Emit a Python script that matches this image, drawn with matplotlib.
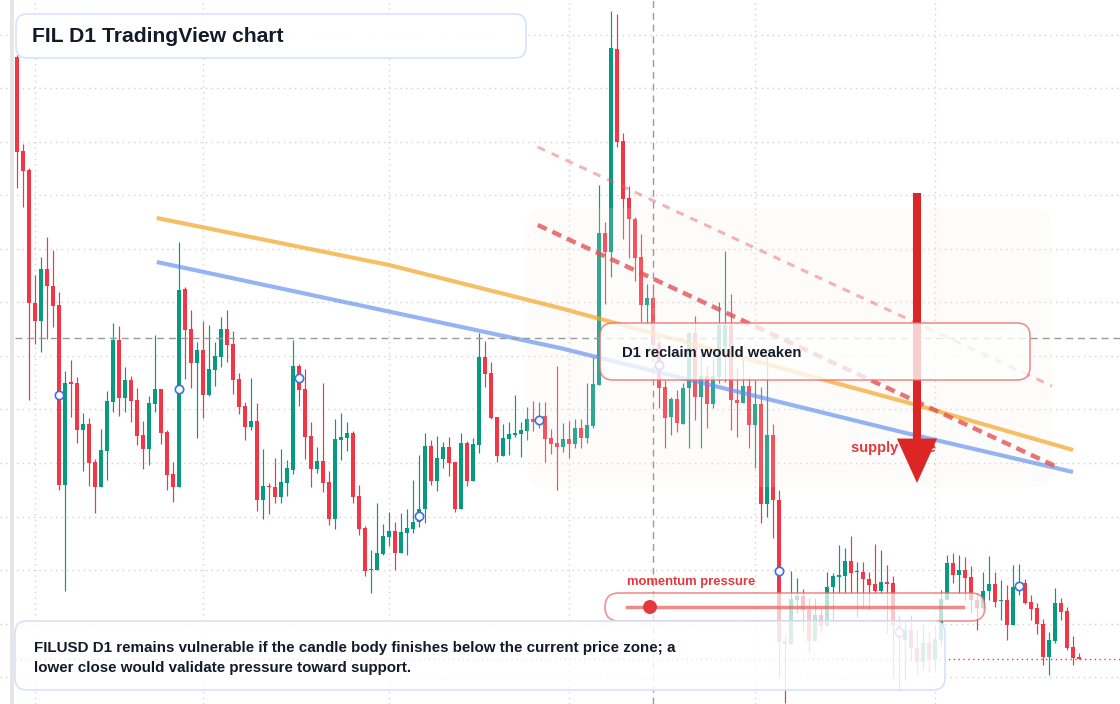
import numpy as np
import pandas as pd
import matplotlib
matplotlib.use("Agg")
import matplotlib.pyplot as plt
from matplotlib.patches import FancyBboxPatch, Circle
from matplotlib.lines import Line2D
from matplotlib.transforms import IdentityTransform

plt.rcParams["font.family"] = ["Liberation Sans", "DejaVu Sans"]

# daily FILUSD candles
dates = pd.date_range("2025-01-29", periods=178, freq="D")

opens = [
    1.886, 1.698, 1.660, 1.394, 1.358, 1.462, 1.428, 1.390, 1.030, 1.236,
    1.234, 1.140, 1.152, 1.076, 1.026, 1.098, 1.196, 1.320, 1.204, 1.240,
    1.200, 1.130, 1.102, 1.192, 1.222, 1.136, 1.052, 1.026, 1.422, 1.342,
    1.274, 1.300, 1.210, 1.260, 1.286, 1.342, 1.312, 1.242, 1.188, 1.146,
    1.158, 1.000, 1.028, 1.026, 1.006, 1.034, 1.060, 1.268, 1.222, 1.128,
    1.062, 1.078, 1.036, 0.962, 1.120, 1.124, 1.134, 1.008, 0.944, 0.860,
    0.860, 0.892, 0.926, 0.938, 0.894, 0.934, 0.942, 0.956, 0.982, 1.108,
    1.038, 1.082, 1.106, 1.076, 0.982, 1.114, 1.038, 1.110, 1.286, 1.254,
    1.166, 1.088, 1.122, 1.130, 1.132, 1.138, 1.162, 1.158, 1.168, 1.124,
    1.114, 1.106, 1.122, 1.112, 1.144, 1.124, 1.148, 1.230, 1.534, 1.496,
    1.902, 1.718, 1.604, 1.562, 1.486, 1.390, 1.404, 1.314, 1.226, 1.166,
    1.202, 1.152, 1.224, 1.334, 1.206, 1.248, 1.192, 1.246, 1.306, 1.350,
    1.200, 1.194, 1.228, 1.150, 1.192, 0.992, 1.130, 1.000, 0.718, 0.712,
    0.800, 0.808, 0.780, 0.718, 0.770, 0.748, 0.826, 0.846, 0.848, 0.878,
    0.856, 0.856, 0.842, 0.832, 0.818, 0.836, 0.834, 0.748, 0.720, 0.740,
    0.704, 0.676, 0.714, 0.680, 0.720, 0.800, 0.874, 0.850, 0.860, 0.846,
    0.800, 0.784, 0.818, 0.832, 0.798, 0.800, 0.750, 0.826, 0.834, 0.796,
    0.784, 0.752, 0.686, 0.718, 0.794, 0.778, 0.706, 0.686,
]
highs = [
    1.890, 1.712, 1.664, 1.450, 1.486, 1.526, 1.500, 1.416, 1.258, 1.280,
    1.246, 1.174, 1.164, 1.082, 1.142, 1.218, 1.354, 1.348, 1.266, 1.248,
    1.224, 1.158, 1.208, 1.330, 1.222, 1.140, 1.076, 1.516, 1.426, 1.380,
    1.316, 1.358, 1.350, 1.316, 1.366, 1.380, 1.338, 1.254, 1.196, 1.244,
    1.194, 1.102, 1.034, 1.084, 1.102, 1.080, 1.320, 1.272, 1.262, 1.156,
    1.106, 1.234, 1.058, 1.162, 1.174, 1.156, 1.138, 1.030, 0.948, 0.900,
    0.994, 0.952, 0.976, 0.956, 0.974, 0.982, 1.040, 1.090, 1.134, 1.120,
    1.128, 1.116, 1.126, 1.076, 1.134, 1.118, 1.124, 1.334, 1.318, 1.276,
    1.166, 1.152, 1.156, 1.210, 1.156, 1.186, 1.198, 1.196, 1.196, 1.142,
    1.268, 1.154, 1.158, 1.162, 1.162, 1.234, 1.286, 1.630, 1.556, 1.978,
    1.972, 1.734, 1.628, 1.566, 1.532, 1.432, 1.430, 1.320, 1.240, 1.206,
    1.220, 1.234, 1.336, 1.368, 1.314, 1.268, 1.294, 1.396, 1.498, 1.412,
    1.266, 1.286, 1.246, 1.240, 1.226, 1.290, 1.152, 1.020, 0.730, 0.858,
    0.844, 0.822, 0.804, 0.804, 0.786, 0.856, 0.854, 0.910, 0.904, 0.928,
    0.876, 0.876, 0.856, 0.912, 0.900, 0.870, 0.848, 0.770, 0.760, 0.770,
    0.740, 0.750, 0.736, 0.750, 0.820, 0.890, 0.894, 0.890, 0.886, 0.868,
    0.814, 0.856, 0.888, 0.856, 0.840, 0.830, 0.870, 0.872, 0.842, 0.810,
    0.794, 0.762, 0.736, 0.824, 0.804, 0.786, 0.728, 0.694,
]
lows = [
    1.624, 1.586, 1.200, 1.312, 1.296, 1.322, 1.346, 1.020, 0.818, 1.166,
    1.114, 1.058, 1.028, 0.974, 1.026, 1.040, 1.176, 1.168, 1.176, 1.156,
    1.110, 1.062, 1.070, 1.176, 1.112, 1.020, 0.996, 1.026, 1.242, 1.224,
    1.124, 1.164, 1.208, 1.228, 1.266, 1.276, 1.212, 1.172, 1.120, 1.140,
    0.978, 0.962, 0.972, 0.994, 0.994, 1.008, 1.052, 1.188, 1.082, 1.026,
    1.054, 1.016, 0.950, 0.942, 1.080, 1.098, 0.994, 0.930, 0.848, 0.814,
    0.860, 0.890, 0.908, 0.860, 0.894, 0.890, 0.934, 0.946, 0.954, 1.030,
    1.018, 1.064, 1.048, 0.976, 0.982, 1.028, 1.038, 1.094, 1.226, 1.162,
    1.076, 1.088, 1.090, 1.126, 1.086, 1.120, 1.138, 1.144, 1.076, 1.092,
    1.020, 1.096, 1.084, 1.104, 1.104, 1.114, 1.144, 1.230, 1.392, 1.446,
    1.706, 1.522, 1.484, 1.438, 1.356, 1.352, 1.280, 1.184, 1.104, 1.130,
    1.136, 1.152, 1.104, 1.160, 1.104, 1.144, 1.184, 1.234, 1.236, 1.140,
    1.126, 1.194, 1.104, 1.064, 0.954, 0.966, 0.924, 0.646, 0.594, 0.710,
    0.774, 0.736, 0.694, 0.718, 0.734, 0.748, 0.760, 0.814, 0.814, 0.814,
    0.766, 0.784, 0.780, 0.814, 0.814, 0.734, 0.644, 0.620, 0.640, 0.680,
    0.650, 0.660, 0.656, 0.660, 0.710, 0.800, 0.834, 0.814, 0.800, 0.774,
    0.740, 0.780, 0.800, 0.786, 0.760, 0.720, 0.750, 0.810, 0.792, 0.760,
    0.732, 0.670, 0.650, 0.714, 0.760, 0.700, 0.670, 0.682,
]
closes = [
    1.696, 1.658, 1.394, 1.358, 1.462, 1.428, 1.388, 1.030, 1.234, 1.232,
    1.140, 1.152, 1.074, 1.026, 1.100, 1.198, 1.320, 1.204, 1.240, 1.198,
    1.128, 1.102, 1.194, 1.222, 1.134, 1.050, 1.026, 1.420, 1.340, 1.274,
    1.300, 1.210, 1.262, 1.288, 1.342, 1.310, 1.240, 1.186, 1.146, 1.158,
    1.000, 1.028, 1.026, 1.006, 1.036, 1.064, 1.268, 1.220, 1.126, 1.062,
    1.078, 1.034, 0.962, 1.122, 1.126, 1.134, 1.006, 0.942, 0.858, 0.862,
    0.894, 0.928, 0.938, 0.894, 0.936, 0.944, 0.956, 0.982, 1.108, 1.038,
    1.084, 1.106, 1.074, 0.982, 1.114, 1.038, 1.112, 1.286, 1.252, 1.164,
    1.088, 1.124, 1.132, 1.134, 1.140, 1.162, 1.156, 1.162, 1.122, 1.112,
    1.106, 1.122, 1.112, 1.144, 1.124, 1.150, 1.232, 1.534, 1.496, 1.904,
    1.716, 1.602, 1.562, 1.484, 1.390, 1.404, 1.310, 1.224, 1.164, 1.202,
    1.154, 1.224, 1.334, 1.206, 1.248, 1.192, 1.248, 1.350, 1.350, 1.200,
    1.194, 1.228, 1.150, 1.192, 0.992, 1.130, 1.000, 0.716, 0.712, 0.802,
    0.808, 0.780, 0.718, 0.770, 0.748, 0.826, 0.848, 0.850, 0.878, 0.854,
    0.858, 0.842, 0.830, 0.818, 0.836, 0.832, 0.750, 0.724, 0.740, 0.704,
    0.676, 0.714, 0.680, 0.722, 0.802, 0.874, 0.850, 0.860, 0.844, 0.800,
    0.784, 0.818, 0.832, 0.796, 0.800, 0.750, 0.826, 0.832, 0.794, 0.782,
    0.752, 0.686, 0.720, 0.794, 0.776, 0.704, 0.684, 0.682,
]

# overlay curves (bar index, price)
ema_fast_x = [23.3, 62.0, 90.5, 149.3, 176.0]
ema_fast = [1.564, 1.470, 1.384, 1.192, 1.100]
ema_slow_x = [23.3, 90.5, 148.8, 176.0]
ema_slow = [1.476, 1.304, 1.132, 1.056]

# descending trendlines
trend_x = [86.8, 173.0]
trend_main = [1.550, 1.068]
trend_upper_x = [86.8, 172.5]
trend_upper = [1.706, 1.228]

zone_x = [85.0, 172.5]
zone_price = [1.026, 1.584]
arrow_x = 150
arrow_price = [1.614, 1.034]
cross_x = 106
cross_price = 1.324
marker_idx = [7, 27, 47, 67, 87, 107, 127, 147, 167]

W, H = 1120, 704
UP, DOWN = "#089981", "#f23645"

fig = plt.figure(figsize=(W / 100, H / 100), dpi=100)
ax = fig.add_axes([0, 0, 1, 1])
ax.set_xlim(-2.833, 183.833)
ax.set_ylim(0.592, 2.0)
for s in ax.spines.values():
    s.set_visible(False)

month_starts = np.where(dates.day == 1)[0]
ax.set_xticks(month_starts)
ax.set_yticks(np.arange(0.646, 1.95, 0.107))
ax.tick_params(length=0, labelbottom=False, labelleft=False)
ax.grid(True, color="#d2d2d2", lw=1, ls=(0, (1, 3)), zorder=0)

o = np.array(opens)
h = np.array(highs)
l = np.array(lows)
c = np.array(closes)
x = np.arange(len(o))
up = c >= o
cols = np.where(up, UP, DOWN)

ax.vlines(x, l, h, colors=cols, lw=0.85, zorder=2)
body_lo = np.minimum(o, c)
body_h = np.maximum(np.abs(c - o), 0.0025)
ax.bar(x, body_h, bottom=body_lo, width=0.75, color=cols, lw=0, zorder=2)

# supply zone shading
ax.add_patch(FancyBboxPatch((zone_x[0], zone_price[0]), zone_x[1] - zone_x[0],
                            zone_price[1] - zone_price[0],
                            boxstyle="round,pad=0,rounding_size=3", mutation_aspect=0.012,
                            fc="#fbeee2", ec="none", alpha=0.17, zorder=3))

ax.plot(ema_fast_x, ema_fast, color="#f5a524", alpha=0.7, lw=3, zorder=4,
        solid_capstyle="butt")
ax.plot(ema_slow_x, ema_slow, color="#5b8def", alpha=0.65, lw=3, zorder=4,
        solid_capstyle="butt")
ax.plot(trend_upper_x, trend_upper, color="#e85c5c", alpha=0.45, lw=2.2,
        ls=(0, (2.6, 2.4)), zorder=4)
ax.plot(trend_x, trend_main, color="#e35252", alpha=0.8, lw=3.2,
        ls=(0, (2.2, 1.4)), zorder=4)

# crosshair + last price
ax.axhline(cross_price, xmin=0.013, color="#9a9a9a", lw=1, ls=(0, (5, 3.5)), zorder=4)
ax.axvline(cross_x, color="#9a9a9a", lw=1, ls=(0, (5, 3.5)), zorder=4)
ax.axhline(closes[-1], xmin=0.013, color=DOWN, lw=1, ls=(0, (1, 2.5)), zorder=4)

mk = [(opens[i] + closes[i]) / 2 for i in marker_idx]
ax.plot(marker_idx, mk, ls="none", marker="o", ms=6, mfc="white", mec="#3d6fe8",
        mew=1.2, zorder=5)

ax.text(139, 1.104, "supply zone", color="#e5383b", fontsize=10.5, weight="bold",
        va="center", ha="left", zorder=5)
ax.annotate("", xy=(arrow_x, arrow_price[1]), xytext=(arrow_x, arrow_price[0]),
            arrowprops=dict(arrowstyle="simple,head_length=3.2,head_width=2.9,tail_width=0.58",
                            mutation_scale=10, fc="#dc2626", ec="none",
                            shrinkA=0, shrinkB=0), zorder=6)


# figure-level overlay panels (pixel layout, y measured from top)
def panel(x0, y0, x1, y1, edge, fill_alpha, r=10, lw=1.2):
    p = FancyBboxPatch((x0, H - y1), x1 - x0, y1 - y0,
                       boxstyle=f"round,pad=0,rounding_size={r}",
                       transform=IdentityTransform(), fc=(1, 1, 1, fill_alpha),
                       ec=edge, lw=lw, zorder=7)
    fig.add_artist(p)


def label(px, py, s, **kw):
    fig.text(px / W, 1 - py / H, s, va="center", ha="left", zorder=8, **kw)


fig.add_artist(FancyBboxPatch((10, 0), 4, H, boxstyle="square,pad=0",
                              transform=IdentityTransform(), fc="#e6e6e6",
                              ec="none", zorder=6))

panel(16, 14, 526, 58, "#d5e3fa", 0.92, r=11)
label(32, 36, "FIL D1 TradingView chart", fontsize=15.2, weight="bold", color="#131a2a")

panel(600, 323, 1030, 380, (0.93, 0.42, 0.42, 0.75), 0.78, r=13)
label(622, 353, "D1 reclaim would weaken", fontsize=10.7, weight="bold", color="#131a2a")

label(627, 582, "momentum pressure", fontsize=9.4, weight="bold", color="#e5383b")
panel(605, 593, 985, 621, (0.93, 0.42, 0.42, 0.75), 0.72, r=14)
fig.add_artist(Line2D([627, 963], [H - 607, H - 607], transform=IdentityTransform(),
                      color="#e86464", alpha=0.75, lw=2.5, zorder=8))
fig.add_artist(Circle((650, H - 607), 7, transform=IdentityTransform(),
                      fc="#e0393e", ec="none", zorder=8))

panel(15, 621, 945, 690, "#d5e3fa", 0.86, r=12)
label(34, 648, "FILUSD D1 remains vulnerable if the candle body finishes below the current price zone; a",
      fontsize=10.88, weight="bold", color="#131a2a")
label(34, 668, "lower close would validate pressure toward support.",
      fontsize=10.88, weight="bold", color="#131a2a")

fig.savefig("out.png", dpi=100)
